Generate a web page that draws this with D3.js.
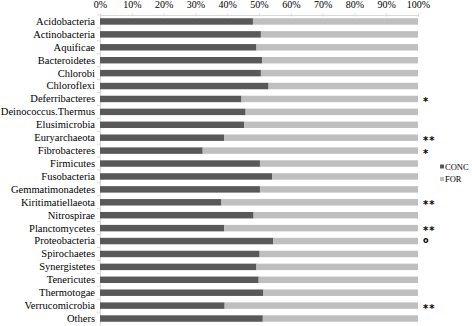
<!DOCTYPE html>
<html>
<head>
<meta charset="utf-8">
<script src="https://cdn.jsdelivr.net/npm/d3@7"></script>
<style>
body { margin: 0; background: #fff; }
svg text { font-family: "Liberation Serif", "Times New Roman", Times, serif; }
</style>
</head>
<body>
<div id="chart"></div>
<script>
var categories = ["Acidobacteria", "Actinobacteria", "Aquificae", "Bacteroidetes", "Chlorobi",
	"Chloroflexi", "Deferribacteres", "Deinococcus.Thermus", "Elusimicrobia", "Euryarchaeota",
	"Fibrobacteres", "Firmicutes", "Fusobacteria", "Gemmatimonadetes", "Kiritimatiellaeota",
	"Nitrospirae", "Planctomycetes", "Proteobacteria", "Spirochaetes", "Synergistetes",
	"Tenericutes", "Thermotogae", "Verrucomicrobia", "Others"];

// CONC share in %, FOR is the rest
var concValues = [48.1, 50.6, 49.2, 51.0, 50.6, 53.0, 44.5, 45.8, 45.3, 39.0, 32.3, 50.3,
	54.1, 50.3, 38.2, 48.3, 39.1, 54.5, 50.2, 49.2, 49.9, 51.4, 39.2, 51.2];
var forValues = concValues.map(function(v) { return 100 - v; });

var marks = ["", "", "", "", "", "", "*", "", "", "**", "*", "", "", "", "**", "", "**", "o",
	"", "", "", "", "**", ""];

var tickValues = [0, 10, 20, 30, 40, 50, 60, 70, 80, 90, 100];

var seriesNames = ["CONC", "FOR"];
var seriesColors = ["#595959", "#bfbfbf"];

var serif = "'Liberation Serif', 'Times New Roman', Times, serif";

var width = 472, height = 326;
var margin = { top: 15, left: 100, right: 54, bottom: 1 };

var svg = d3.select("#chart").append("svg")
	.attr("width", width)
	.attr("height", height);

var x = d3.scaleLinear().domain([0, 100]).range([margin.left, width - margin.right]);
var y = d3.scaleBand().domain(categories)
	.range([margin.top, height - margin.bottom])
	.paddingInner(0.5).paddingOuter(0.25);

// top axis
var xAxis = svg.append("g")
	.attr("transform", "translate(0," + margin.top + ")")
	.call(d3.axisTop(x).tickValues(tickValues).tickSize(-3).tickSizeOuter(0)
		.tickFormat(function(d) { return d + "%"; }));
xAxis.attr("font-family", serif).attr("font-size", 10);
xAxis.select(".domain").attr("stroke", "#d9d9d9");
xAxis.selectAll(".tick line").attr("stroke", "#d9d9d9").attr("transform", "translate(0,-1.5)");
xAxis.selectAll(".tick text")
	.attr("y", -7)
	.attr("fill", "#000");

// left axis
var yAxis = svg.append("g")
	.attr("transform", "translate(" + margin.left + ",0)")
	.call(d3.axisLeft(y).tickSize(0).tickPadding(5));
yAxis.attr("font-family", serif).attr("font-size", 10.5);
yAxis.select(".domain").attr("stroke", "#d9d9d9");
yAxis.selectAll(".tick text").attr("fill", "#000");

// small separator ticks between categories
var step = y.step();
svg.append("g").selectAll("line.sep")
	.data(categories)
	.enter()
	.append("line")
	.attr("class", "sep")
	.attr("x1", margin.left - 3)
	.attr("x2", margin.left)
	.attr("y1", function(d) { return y(d) - step * 0.25; })
	.attr("y2", function(d) { return y(d) - step * 0.25; })
	.attr("stroke", "#d9d9d9");

// bars
var rows = categories.map(function(c, i) {
	return { name: c, conc: concValues[i], fr: forValues[i], mark: marks[i] };
});

svg.selectAll("rect.conc")
	.data(rows)
	.enter()
	.append("rect")
	.attr("class", "conc")
	.attr("x", x(0))
	.attr("y", function(d) { return y(d.name); })
	.attr("width", function(d) { return x(d.conc) - x(0); })
	.attr("height", y.bandwidth())
	.attr("fill", seriesColors[0]);

svg.selectAll("rect.for")
	.data(rows)
	.enter()
	.append("rect")
	.attr("class", "for")
	.attr("x", function(d) { return x(d.conc); })
	.attr("y", function(d) { return y(d.name); })
	.attr("width", function(d) { return x(d.conc + d.fr) - x(d.conc); })
	.attr("height", y.bandwidth())
	.attr("fill", seriesColors[1]);

// significance marks
svg.selectAll("text.mark")
	.data(rows.filter(function(d) { return d.mark; }))
	.enter()
	.append("text")
	.attr("class", "mark")
	.attr("x", x(100) + 5)
	.attr("y", function(d) { return y(d.name) + y.bandwidth() / 2; })
	.attr("dy", function(d) { return d.mark === "o" ? "0.3em" : "0.6em"; })
	.style("font-family", "'DejaVu Sans', sans-serif")
	.style("font-size", function(d) { return d.mark === "o" ? "8px" : "10px"; })
	.style("font-weight", "bold")
	.style("letter-spacing", "1px")
	.text(function(d) { return d.mark; });

// legend
var legend = svg.append("g").selectAll("g.legend")
	.data(seriesNames)
	.enter()
	.append("g")
	.attr("class", "legend")
	.attr("transform", function(d, i) { return "translate(440," + (167 + i * 12.5) + ")"; });
legend.append("rect")
	.attr("x", 0).attr("y", -2.5)
	.attr("width", 4).attr("height", 4)
	.attr("fill", function(d, i) { return seriesColors[i]; });
legend.append("text")
	.attr("x", 5)
	.attr("dy", "0.33em")
	.style("font-size", "8.5px")
	.text(function(d) { return d; });
</script>
</body>
</html>
